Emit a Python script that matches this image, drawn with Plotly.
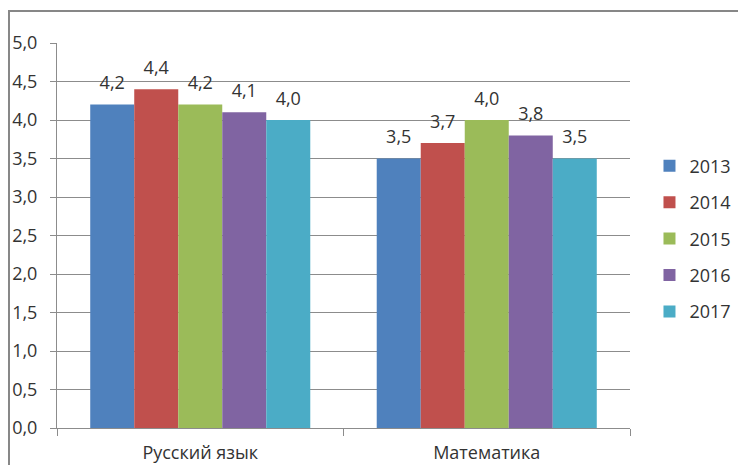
import plotly.graph_objects as go

categories = ["Русский язык", "Математика"]
years = ["2013", "2014", "2015", "2016", "2017"]
values_2013 = [4.2, 3.5]
values_2014 = [4.4, 3.7]
values_2015 = [4.2, 4.0]
values_2016 = [4.1, 3.8]
values_2017 = [4.0, 3.5]
series = [values_2013, values_2014, values_2015, values_2016, values_2017]
colors = ["#4F81BD", "#C0504D", "#9BBB59", "#8064A2", "#4BACC6"]

FONT = "Open Sans"
TXT = "#333333"
GRID = "#8C8C8C"
FS = 18

fig = go.Figure()
for name, vals, col in zip(years, series, colors):
    fig.add_trace(go.Bar(
        x=categories, y=vals, name=name, marker=dict(color=col, line=dict(width=0)),
        legendgroup=name, hoverinfo="skip",
    ))
for name, vals, col in zip(years, series, colors):
    fig.add_trace(go.Scatter(
        x=categories, y=vals, mode="markers+text", showlegend=False,
        marker=dict(size=16, opacity=0, color=col),
        text=[f"{v:.1f}".replace(".", ",") for v in vals],
        textposition="top center",
        textfont=dict(family=FONT, size=FS, color=TXT),
        cliponaxis=False, hoverinfo="skip",
    ))

fig.update_layout(
    width=738, height=457,
    margin=dict(l=49, r=116, t=35, b=37, autoexpand=False),
    paper_bgcolor="white", plot_bgcolor="white",
    barmode="group", bargap=0.232, bargroupgap=0,
    scattermode="group", scattergap=0.232,
    separators=", ",
    font=dict(family=FONT, size=FS, color=TXT),
    showlegend=True,
    legend=dict(
        x=1.034, xanchor="left", y=0.492, yanchor="middle",
        font=dict(family=FONT, size=FS, color=TXT),
        tracegroupgap=10, bgcolor="rgba(0,0,0,0)",
    ),
    xaxis=dict(
        showline=True, linecolor=GRID, linewidth=1, automargin=False,
        ticks="outside", ticklen=7, tickcolor=GRID, tickson="boundaries",
        showgrid=False, ticklabelstandoff=8,
        tickfont=dict(family=FONT, size=FS, color=TXT),
    ),
    yaxis=dict(
        range=[0, 5], dtick=0.5, tickformat=".1f", automargin=False,
        showline=True, linecolor=GRID, linewidth=1,
        ticks="outside", ticklen=6, tickcolor=GRID,
        showgrid=True, gridcolor=GRID, gridwidth=1,
        zeroline=False, ticklabelstandoff=9,
        tickfont=dict(family=FONT, size=FS, color=TXT),
    ),
    shapes=[dict(
        type="rect", xref="paper", yref="paper",
        x0=-0.0838, x1=1.4, y0=-0.3, y1=1.0831,
        line=dict(color="#878787", width=2), fillcolor="rgba(0,0,0,0)", layer="below",
    )],
)

fig.write_html("out.html")
